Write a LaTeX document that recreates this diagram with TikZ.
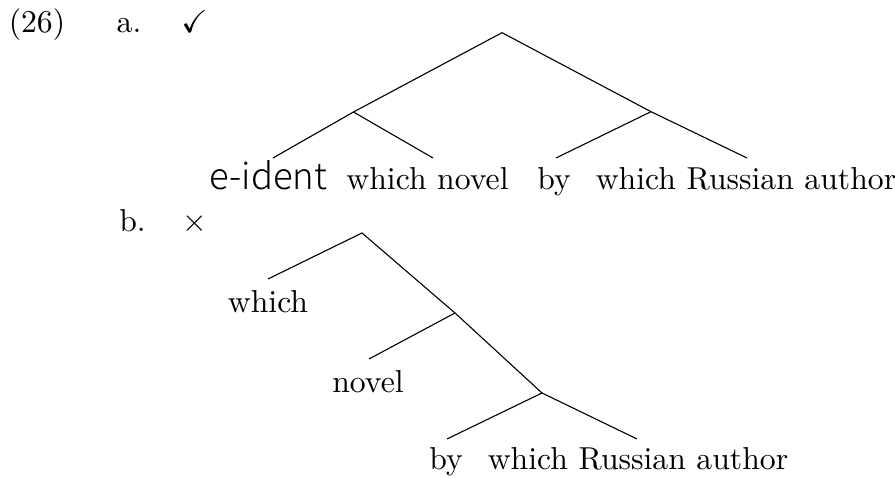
\documentclass[tikz,border=0pt]{standalone}
\usepackage{amssymb}
\usepackage{fontspec}
\newfontfamily\idfont{Noto Sans CJK SC Light}
\begin{document}
\begin{tikzpicture}[x=0.3153pt,y=-0.3153pt,
  lbl/.style={inner sep=0pt,anchor=base},
  branch/.style={draw=black,line width=0.35pt}]
\useasboundingbox (0,0) rectangle (895,478);
% labels
\node[lbl] (ex) at (37,33) {(26)};
\node[lbl] (la) at (129,33) {a.};
\node[lbl] (ok) at (194.5,33) {$\checkmark$};
\node[lbl] (lb) at (132.5,232) {b.};
\node[lbl] (bad) at (195,232) {$\times$};
% tree a
\coordinate (A) at (502,32.7);
\coordinate (AL) at (353.5,112);
\coordinate (AR) at (651,111.7);
\coordinate (ae) at (273,158);
\coordinate (awn) at (433,158);
\coordinate (aby) at (556,158);
\coordinate (awra) at (747,158);
\node[lbl] (te) at (268.5,190) {\idfont\fontsize{11.5}{14}\selectfont e-ident};
\node[lbl] (twn) at (427.5,190) {which novel};
\node[lbl] (tby) at (554,190) {by};
\node[lbl] (twra) at (746,190) {which Russian author};
\draw[branch] (ae) -- (AL) -- (A) -- (AR) -- (awra);
\draw[branch] (AL) -- (awn);
\draw[branch] (AR) -- (aby);
% tree b
\coordinate (B) at (362,233);
\coordinate (B2) at (455,313);
\coordinate (B3) at (542,393);
\coordinate (bw) at (268,279);
\coordinate (bn) at (369,359);
\coordinate (bby) at (447,439);
\coordinate (bwra) at (637,439);
\node[lbl] (tbw) at (268,313) {which};
\node[lbl] (tbn) at (368,393) {novel};
\node[lbl] (tbby) at (446,470) {by};
\node[lbl] (tbwra) at (638,470) {which Russian author};
\draw[branch] (bw) -- (B) -- (B2) -- (B3) -- (bwra);
\draw[branch] (B2) -- (bn);
\draw[branch] (B3) -- (bby);
\end{tikzpicture}
\end{document}
